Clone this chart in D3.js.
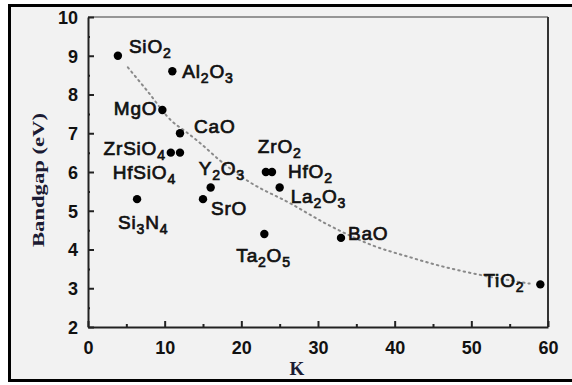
<!DOCTYPE html>
<html>
<head>
<meta charset="utf-8">
<script src="https://cdn.jsdelivr.net/npm/d3@7"></script>
<style>
  body { margin: 0; background: #fff; }
  svg { display: block; }
</style>
</head>
<body>
<div id="chart"></div>
<script>
// data: dielectric constant K vs bandgap (eV)
const materials = ["SiO2", "Al2O3", "MgO", "CaO", "ZrSiO4", "HfSiO4", "Si3N4", "Y2O3", "SrO", "ZrO2", "HfO2", "La2O3", "Ta2O5", "BaO", "TiO2"];
const kValues   = [3.9, 11, 9.7, 12, 10.8, 12, 6.4, 16, 15, 23.2, 24, 25, 23, 33, 59];
const gapValues = [9.0, 8.6, 7.6, 7.0, 6.5, 6.5, 5.3, 5.6, 5.3, 6.0, 6.0, 5.6, 4.4, 4.3, 3.1];

// the dotted trend curve
const trendK   = [5.2, 7.7, 11, 12.7, 14.6, 17.2, 21, 26.3, 31.2, 37.2, 42, 45.5, 51, 57.6];
const trendGap = [8.7, 8.1, 7.3, 7.05, 6.75, 6.3, 5.75, 5.2, 4.65, 4.1, 3.8, 3.6, 3.35, 3.12];

const xTicks = [0, 10, 20, 30, 40, 50, 60];
const yTicks = [2, 3, 4, 5, 6, 7, 8, 9, 10];

const W = 572, H = 385;
const margin = {top: 17, right: 24, bottom: 58, left: 88};

const svg = d3.select("#chart").append("svg")
    .attr("width", W)
    .attr("height", H);

// outer frame
svg.append("rect")
    .attr("x", 9.5).attr("y", 5.5)
    .attr("width", W + 10).attr("height", 375)
    .attr("fill", "#f2f2f2")
    .attr("stroke", "#000")
    .attr("stroke-width", 3);

const x = d3.scaleLinear().domain([0, 60]).range([margin.left, W - margin.right]);
const y = d3.scaleLinear().domain([2, 10]).range([H - margin.bottom, margin.top]);

// top and right frame of the plot
svg.append("line")
    .attr("x1", x(0)).attr("x2", x(60))
    .attr("y1", y(10)).attr("y2", y(10))
    .attr("stroke", "#777").attr("stroke-width", 1.5);
svg.append("line")
    .attr("x1", x(60)).attr("x2", x(60))
    .attr("y1", y(10)).attr("y2", y(2))
    .attr("stroke", "#333").attr("stroke-width", 2);

// axes, ticks pointing inward
const xAxis = svg.append("g")
    .attr("transform", `translate(0,${y(2)})`)
    .call(d3.axisTop(x).tickValues(d3.range(5, 60, 10)).tickSize(3).tickFormat(""));
xAxis.call(g => g.select(".domain").remove());
const xMajor = svg.append("g")
    .attr("transform", `translate(0,${y(2)})`)
    .call(d3.axisBottom(x).tickValues(xTicks).tickSize(-6).tickPadding(14).tickSizeOuter(0));

const yMinor = svg.append("g")
    .attr("transform", `translate(${x(0)},0)`)
    .call(d3.axisRight(y).tickValues(d3.range(2.5, 10, 1)).tickSize(2).tickFormat(""));
yMinor.call(g => g.select(".domain").remove());
const yMajor = svg.append("g")
    .attr("transform", `translate(${x(0)},0)`)
    .call(d3.axisLeft(y).tickValues(yTicks).tickSize(-6).tickPadding(10).tickSizeOuter(0));

svg.selectAll(".domain").attr("stroke", "#222").attr("stroke-width", 2);
svg.selectAll(".tick line").attr("stroke", "#222").attr("stroke-width", 2);
svg.selectAll(".tick text")
    .attr("fill", "#111")
    .style("font-family", "Liberation Sans, Arial, sans-serif")
    .style("font-size", "18px")
    .style("font-weight", "bold");
yMajor.selectAll(".tick text").attr("dy", "0.36em");

// axis titles
svg.append("text")
    .attr("transform", `translate(44,${(y(2) + y(10)) / 2 + 8}) rotate(-90)`)
    .attr("text-anchor", "middle")
    .attr("textLength", 134)
    .attr("lengthAdjust", "spacingAndGlyphs")
    .attr("fill", "#1b1b33")
    .style("font-family", "Liberation Serif, Times New Roman, serif")
    .style("font-size", "17px")
    .style("font-weight", "bold")
    .text("Bandgap (eV)");

svg.append("text")
    .attr("x", (x(0) + x(60)) / 2 - 21)
    .attr("y", 375)
    .attr("text-anchor", "middle")
    .attr("fill", "#1b1b33")
    .style("font-family", "Liberation Serif, Times New Roman, serif")
    .style("font-size", "19px")
    .style("font-weight", "bold")
    .text("K");

// trend curve
const trend = trendK.map((k, i) => [k, trendGap[i]]);
svg.append("path")
    .datum(trend)
    .attr("fill", "none")
    .attr("stroke", "#8a8a8a")
    .attr("stroke-width", 2)
    .attr("stroke-dasharray", "1.5,4")
    .attr("stroke-linecap", "round")
    .attr("d", d3.line().x(d => x(d[0])).y(d => y(d[1])).curve(d3.curveMonotoneX));

const points = materials.map((m, i) => ({name: m, k: kValues[i], gap: gapValues[i]}));

svg.append("g")
    .selectAll("circle")
    .data(points)
    .join("circle")
      .attr("cx", d => x(d.k))
      .attr("cy", d => y(d.gap))
      .attr("r", 4.2)
      .attr("fill", "#000");

// label placement relative to each dot: [dx, dy, anchor]
const labelPos = {
  SiO2:   [11, -3, "start"],
  Al2O3:  [10, 7, "start"],
  MgO:    [-5, 5, "end"],
  CaO:    [14, 0, "start"],
  ZrSiO4: [-5, 2, "end"],
  HfSiO4: [-4, 26, "end"],
  Si3N4:  [-19, 30, "start"],
  Y2O3:   [-12, -13, "start"],
  SrO:    [8, 16, "start"],
  ZrO2:   [-8, -19, "start"],
  HfO2:   [16, 6, "start"],
  La2O3:  [11, 15, "start"],
  Ta2O5:  [-28, 28, "start"],
  BaO:    [7, 2, "start"],
  TiO2:   [-16, 3, "end"]
};

const labels = svg.append("g")
    .style("font-family", "Liberation Sans, Arial, sans-serif")
    .style("font-size", "19px")
    .style("letter-spacing", "0.8px")
    .attr("fill", "#111")
    .attr("stroke", "#111")
    .attr("stroke-width", 0.7)
  .selectAll("text")
  .data(points)
  .join("text")
    .attr("x", d => x(d.k) + labelPos[d.name][0])
    .attr("y", d => y(d.gap) + labelPos[d.name][1])
    .attr("text-anchor", d => labelPos[d.name][2]);

// split formula into normal text and subscript digits
labels.each(function(d) {
  const t = d3.select(this);
  const parts = d.name.match(/[A-Za-z]+|\d+/g);
  let down = false;
  parts.forEach(p => {
    const isNum = /\d/.test(p);
    const ts = t.append("tspan").text(p);
    if (isNum && !down) { ts.attr("dy", 5).style("font-size", "14px"); down = true; }
    else if (isNum) { ts.style("font-size", "14px"); }
    else if (down) { ts.attr("dy", -5); down = false; }
  });
});
</script>
</body>
</html>
